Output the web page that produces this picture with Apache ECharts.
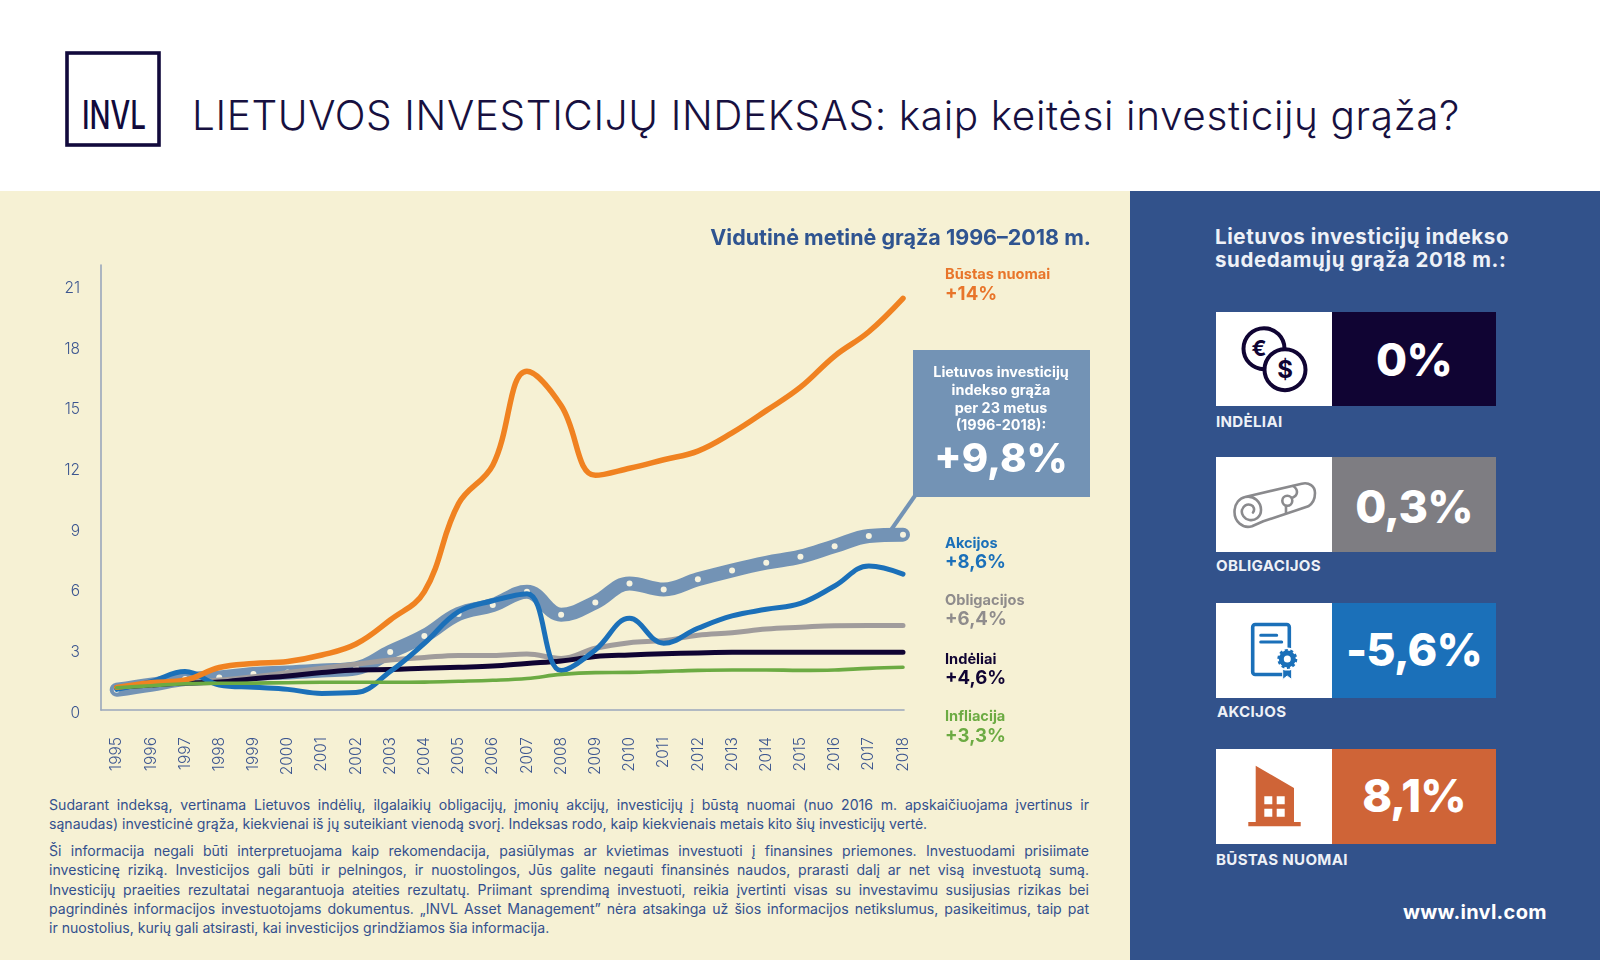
<!DOCTYPE html>
<html lang="lt">
<head>
<meta charset="utf-8">
<title>Lietuvos investicijų indeksas</title>
<script src="https://cdn.jsdelivr.net/npm/echarts@6/dist/echarts.min.js"></script>
<style>
html,body{margin:0;padding:0;background:#fff;}
body{width:1600px;height:960px;overflow:hidden;position:relative;font-family:Inter,"Open Sans",sans-serif;}
.abs{position:absolute;}
#left{left:0;top:191px;width:1130px;height:769px;background:#f6f1d4;}
#right{left:1130px;top:191px;width:470px;height:769px;background:#32528b;}
#chart{left:0;top:0;width:1600px;height:960px;}
#logo{left:65px;top:51px;width:96px;height:96px;}
h1{position:absolute;left:192px;top:91px;margin:0;font-size:40.5px;font-weight:300;line-height:50px;color:#171040;white-space:nowrap;letter-spacing:.62px;}
#notes{left:49px;top:795px;width:1040px;font-size:14.1px;line-height:19.3px;color:#33508e;font-weight:400;}
#notes p{margin:0 0 7.5px 0;}
#notes span{display:block;white-space:nowrap;text-align:justify;text-align-last:justify;}
#notes span.last{text-align-last:left;}
#rhead{left:1215px;top:226px;font-size:20.5px;line-height:22.5px;font-weight:700;color:#eef1f7;white-space:nowrap;letter-spacing:.6px;}
.ibox{left:1216px;width:116px;height:94.5px;background:#fff;}
.vbox{left:1332px;width:164px;height:94.5px;color:#fff;font-size:45px;font-weight:800;text-align:center;line-height:96px;letter-spacing:-.8px;}
.clab{left:1216px;font-size:15.1px;font-weight:700;color:#eef1f7;line-height:18px;white-space:nowrap;letter-spacing:.3px;}
#www{left:1403px;top:899px;font-size:20px;font-weight:700;color:#fff;line-height:26px;letter-spacing:.3px;}
svg{position:absolute;left:0;top:0;}
</style>
</head>
<body>
<div id="left" class="abs"></div>
<div id="right" class="abs"></div>
<div id="logo" class="abs"><svg width="96" height="96" viewBox="0 0 96 96">
<rect x="2" y="2" width="92" height="92" fill="none" stroke="#120a3c" stroke-width="3.6"/>
<text x="17" y="78" font-size="39" font-weight="500" fill="#120a3c" textLength="64" lengthAdjust="spacingAndGlyphs">INVL</text>
</svg></div>
<h1>LIETUVOS INVESTICIJŲ INDEKSAS: kaip keitėsi investicijų grąža?</h1>

<div id="notes" class="abs">
<p><span>Sudarant indeksą, vertinama Lietuvos indėlių, ilgalaikių obligacijų, įmonių akcijų, investicijų į būstą nuomai (nuo 2016 m. apskaičiuojama įvertinus ir</span><span class="last">sąnaudas) investicinė grąža, kiekvienai iš jų suteikiant vienodą svorį. Indeksas rodo, kaip kiekvienais metais kito šių investicijų vertė.</span></p>
<p><span>Ši informacija negali būti interpretuojama kaip rekomendacija, pasiūlymas ar kvietimas investuoti į finansines priemones. Investuodami prisiimate</span><span>investicinę riziką. Investicijos gali būti ir pelningos, ir nuostolingos, Jūs galite negauti finansinės naudos, prarasti dalį ar net visą investuotą sumą.</span><span>Investicijų praeities rezultatai negarantuoja ateities rezultatų. Priimant sprendimą investuoti, reikia įvertinti visas su investavimu susijusias rizikas bei</span><span>pagrindinės informacijos investuotojams dokumentus. „INVL Asset Management” nėra atsakinga už šios informacijos netikslumus, pasikeitimus, taip pat</span><span class="last">ir nuostolius, kurių gali atsirasti, kai investicijos grindžiamos šia informacija.</span></p>
</div>

<div id="rhead" class="abs">Lietuvos investicijų indekso<br>sudedamųjų grąža 2018 m.:</div>

<div class="abs ibox" style="top:311.7px"><svg width="116" height="95" viewBox="0 0 116 95">
<circle cx="48" cy="36.7" r="20.5" fill="#fff" stroke="#100433" stroke-width="4"/>
<text x="43" y="44" font-size="22" font-weight="700" fill="#100433" text-anchor="middle">€</text>
<circle cx="69" cy="57.7" r="20.5" fill="#fff" stroke="#100433" stroke-width="4"/>
<text x="69" y="66" font-size="24" font-weight="700" fill="#100433" text-anchor="middle">$</text>
</svg></div>
<div class="abs vbox" style="top:311.7px;background:#100433">0%</div>
<div class="abs clab" style="top:412.5px">INDĖLIAI</div>

<div class="abs ibox" style="top:457.3px"><svg width="116" height="95" viewBox="0 0 116 95" fill="none" stroke="#8a8a8d" stroke-width="2.6" stroke-linecap="round" stroke-linejoin="round">
<path d="M29 40 L85.7 26.7 C93 25 99 29 99 36 C99 43 96 47 92.3 49.3 L47.3 64.3 L36 69.3 C26 72 18.5 64 18.5 55 C18.5 46 24 41 29 40 C38 38 45 45 45 53 C45 60 39 64 33.5 63 C28 62 25 57 26 53 C27 49 31 46.5 35 48 C38 49 39 53 37 55.5"/>
<circle cx="71.3" cy="43.7" r="5"/>
<path d="M77 29 C82 32 83 38 76 41 M70 49 L70 56"/>
</svg></div>
<div class="abs vbox" style="top:457.3px;background:#7e7d82;line-height:100px">0,3%</div>
<div class="abs clab" style="top:557px">OBLIGACIJOS</div>

<div class="abs ibox" style="top:603.3px"><svg width="116" height="95" viewBox="0 0 116 95">
<rect x="36.7" y="21.5" width="36.6" height="50" rx="2.5" fill="#fff" stroke="#1b70b9" stroke-width="3.6"/>
<path d="M44.7 32.3H60.7M44.7 39H65.7" stroke="#1b70b9" stroke-width="3" stroke-linecap="round"/>
<path d="M66.7 62V76.5L71.2 73L75.7 76.5V62Z" fill="#1b70b9" stroke="#fff" stroke-width="1"/>
<circle cx="71.3" cy="56" r="11.5" fill="#fff"/>
<circle cx="71.3" cy="56" r="6" fill="#fff" stroke="#1b70b9" stroke-width="5"/>
<circle cx="71.3" cy="56" r="8.7" fill="none" stroke="#1b70b9" stroke-width="2.6" stroke-dasharray="3 2.46"/>
</svg></div>
<div class="abs vbox" style="top:603.3px;background:#1b70b9;line-height:94px">-5,6%</div>
<div class="abs clab" style="top:703px;left:1217px">AKCIJOS</div>

<div class="abs ibox" style="top:749.3px"><svg width="116" height="95" viewBox="0 0 116 95">
<path d="M39.7 16.7L78 39V73H84.7V77.3H32.3V73H39.7Z" fill="#cf6437"/>
<path d="M48.3 47.3h8v8h-8zM60.7 47.3h8v8h-8zM48.3 59.7h8v8h-8zM60.7 59.7h8v8h-8z" fill="#fff"/>
</svg></div>
<div class="abs vbox" style="top:749.3px;background:#cf6437;line-height:94px">8,1%</div>
<div class="abs clab" style="top:851px">BŪSTAS NUOMAI</div>

<div id="www" class="abs">www.invl.com</div>
<div id="chart" class="abs"></div>

<script>
const years = ['1995','1996','1997','1998','1999','2000','2001','2002','2003','2004','2005','2006','2007','2008','2009','2010','2011','2012','2013','2014','2015','2016','2017','2018'];
const indexReturn = [1.0,1.25,1.53,1.61,1.78,1.85,1.95,2.06,2.87,3.66,4.75,5.19,5.85,4.71,5.32,6.26,5.96,6.46,6.90,7.28,7.58,8.10,8.60,8.67];
const obligacijos = [1.1,1.25,1.35,1.48,1.65,1.85,2.06,2.26,2.47,2.6,2.7,2.7,2.77,2.55,3.05,3.33,3.43,3.7,3.82,4.0,4.09,4.17,4.18,4.18];
const indeliai = [1.1,1.23,1.33,1.38,1.55,1.68,1.85,1.98,2.0,2.06,2.11,2.17,2.3,2.42,2.64,2.72,2.78,2.82,2.85,2.86,2.86,2.86,2.86,2.86];
const akcijos = [1.02,1.4,1.9,1.24,1.12,1.02,0.82,0.86,1.9,3.3,4.86,5.4,5.75,1.95,2.97,4.53,3.3,4.04,4.65,4.98,5.27,6.13,7.12,6.72];
const bustas = [1.12,1.35,1.48,2.1,2.3,2.4,2.72,3.26,4.45,5.85,10.2,12.1,16.75,15.05,11.6,11.95,12.37,12.8,13.7,14.8,15.96,17.5,18.7,20.35];
const infliacija = [1.1,1.2,1.3,1.32,1.33,1.35,1.37,1.37,1.37,1.38,1.42,1.47,1.56,1.76,1.85,1.86,1.91,1.96,1.98,1.98,1.96,1.98,2.06,2.11];
const seriesNames = ['Būstas nuomai','Akcijos','Obligacijos','Indėliai','Infliacija'];
const seriesTotals = ['+14%','+8,6%','+6,4%','+4,6%','+3,3%'];
const labelColors = ['#e8752a','#1b70b9','#8f8c8c','#100433','#6cab43'];
const calloutLines = ['Lietuvos investicijų','indekso grąža','per 23 metus','(1996-2018):'];
const calloutValue = '+9,8%';
const chartTitle = 'Vidutinė metinė grąža 1996–2018 m.';

const F = 'Inter';
const line = (name, data, color, width, extra) => Object.assign({
  name, type:'line', data, xAxisIndex:1, yAxisIndex:1, smooth:0.4, showSymbol:false, symbol:'none',
  lineStyle:{color, width, cap:'round', join:'round'}, itemStyle:{color}, silent:true, animation:false
}, extra||{});

const labelTops = [274.5,544,601,660,717];
const valueTops = [294,562,619,678.5,736];
const graphics = [
  {type:'polyline', shape:{points:[[915.5,495],[891,530]]}, style:{stroke:'#7393b5',lineWidth:4,fill:null}, z:1},
  {type:'rect', shape:{x:913,y:350,width:177,height:147}, style:{fill:'#7393b5'}, z:1}
];
calloutLines.forEach((t,i)=>graphics.push({type:'text', z:2, style:{text:t,x:1001,y:373+i*17.6,fill:'#fff',font:'700 14.4px '+F,textAlign:'center',textVerticalAlign:'middle'}}));
graphics.push({type:'text', z:2, style:{text:calloutValue,x:1001,y:460,fill:'#fff',font:'800 40px '+F,textAlign:'center',textVerticalAlign:'middle'}});
seriesNames.forEach((t,i)=>{
  graphics.push({type:'text', z:2, style:{text:t,x:945,y:labelTops[i],fill:labelColors[i],font:'700 14.6px '+F,textVerticalAlign:'middle'}});
  graphics.push({type:'text', z:2, style:{text:seriesTotals[i],x:945,y:valueTops[i],fill:labelColors[i],font:'700 18.6px '+F,textVerticalAlign:'middle'}});
});

const chart = echarts.init(document.getElementById('chart'), null, {renderer:'canvas', width:1600, height:960});
chart.setOption({
  animation:false,
  backgroundColor:'transparent',
  title:{text:chartTitle, right:509, top:227, padding:0, textStyle:{fontFamily:F,fontSize:21.5,fontWeight:700,color:'#2f5490',lineHeight:24}},
  grid:[
    {left:101, top:265, width:803, height:445},
    {left:116.7, top:265, width:786.3, height:445}
  ],
  xAxis:[
    {gridIndex:0, type:'value', min:0, max:1, axisLine:{show:true,onZero:false,lineStyle:{color:'#9aa7bc',width:1.6}}, axisTick:{show:false}, axisLabel:{show:false}, splitLine:{show:false}},
    {gridIndex:1, type:'category', data:years, boundaryGap:false, axisLine:{show:false}, axisTick:{show:false}, splitLine:{show:false},
     axisLabel:{rotate:90, margin:27, interval:0, fontFamily:F, fontSize:15.5, fontWeight:300, color:'#3c5690', hideOverlap:false}}
  ],
  yAxis:[
    {gridIndex:0, type:'value', min:0, max:22, interval:3, axisLine:{show:true,lineStyle:{color:'#9aa7bc',width:1.6}}, axisTick:{show:false}, splitLine:{show:false},
     axisLabel:{margin:21, showMaxLabel:false, formatter:'{a|{value}}', rich:{a:{padding:[6,0,0,0], fontFamily:F, fontSize:15.5, fontWeight:300, color:'#3c5690'}}}},
    {gridIndex:1, type:'value', min:0, max:22, interval:3, show:false, splitLine:{show:false}}
  ],
  graphic:{elements:graphics},
  series:[
    line('Lietuvos investicijų indeksas', indexReturn, '#7393b5', 14, {showSymbol:true, symbol:'circle', symbolSize:6, itemStyle:{color:'#f6f3df',borderWidth:0}, z:2}),
    line('Obligacijos', obligacijos, '#a09c9c', 5, {z:3}),
    line('Indėliai', indeliai, '#100433', 5, {z:4}),
    line('Akcijos', akcijos, '#1b70b9', 5, {z:5}),
    line('Būstas nuomai', bustas, '#f08221', 5.5, {z:6}),
    line('Infliacija', infliacija, '#6cab43', 3.6, {z:7})
  ]
});
</script>
</body>
</html>
